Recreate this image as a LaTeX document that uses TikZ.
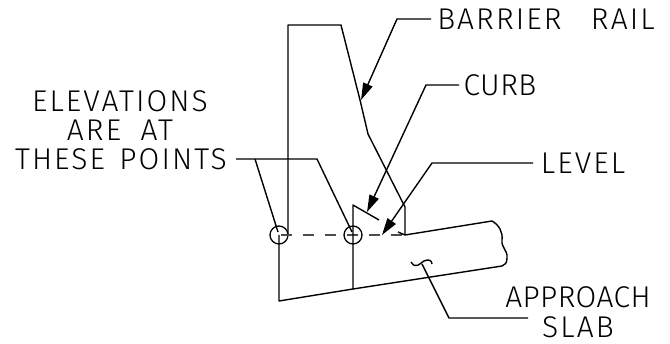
\documentclass[tikz,border=0pt]{standalone}
\usepackage{fontspec}
\newfontfamily\cadfont[LetterSpace=7,UprightFont=* Light]{Fira Sans}
\newfontfamily\cadtight[LetterSpace=1.5,UprightFont=* Light]{Fira Sans}
\usetikzlibrary{arrows.meta}
\tikzset{
    note/.style = {inner sep=0pt,font=\cadfont\fontsize{30}{30}\selectfont},
    notet/.style = {inner sep=0pt,font=\cadtight\fontsize{30}{30}\selectfont},
    point/.style = {circle, draw=black, line width=1.3pt, inner sep=0pt, minimum size=18pt},
    edgen/.style = {line width=1.4pt,line join=round},
    edgea/.style = {-{Triangle[length=17pt,width=10pt]},line width=1.4pt,line join=round},
    edged/.style = {line width=1.8pt,black!70,dash pattern=on 11pt off 11pt,dash phase=-2pt}
}

\begin{document}
\begin{tikzpicture}[x=1pt,y=-1pt]
\useasboundingbox (0,0) rectangle (670,344);
\node[note] at (120,101) (elev1) {ELEVATIONS};
\node[note] at (120,130) (elev2) {ARE\hspace{9pt} AT};
\node[note] at (121,159) (elev3) {THESE\hspace{4pt} POINTS};
\node[note] at (546,19) (rail) {BARRIER\hspace{19pt} RAIL};
\node[notet] at (500,85) (curb) {CURB};
\node[note] at (583,163) (level) {LEVEL};
\node[notet] at (578,297) (approach) {APPROACH};
\node[note] at (578,327) (slab) {SLAB};

\node[point] at (279,235) (p1) {};
\node[point] at (353,235) (p2) {};

% barrier and slab
\draw[edgen] (288,235) -- (288,25) -- (341,25) -- (360,100) -- (368,134) -- (405,207) -- (405,235);
\draw[edged] (p1.center) -- (405,235);
\draw[edgen] (p1.center) -- (279,301) -- (353,289) -- (p2.center);
\draw[edgen] (353,289) -- (502,266);
\draw[edgen] (353,235) -- (353,205) -- (379,220);
\draw[edgen] (398,232) -- (405,235) -- (492,221)
    .. controls (499,225) and (503,232) .. (502,240)
    .. controls (501,248) and (508,250) .. (507,258)
    .. controls (507,263) and (505,265) .. (502,266);
\draw[edgen] (411,262) .. controls (416,270) and (420,263) .. (424,261)
    .. controls (428,259) and (432,260) .. (432,264);

% leaders
\draw[edgea] (431,19) -- (397,19) -- (361,100);
\draw[edgea] (459,85) -- (426,85) -- (367,212);
\draw[edgea] (533,163) -- (432,163) -- (382,235);
\draw[edgen] (236,159) -- (317,159) -- (352,232);
\draw[edgen] (255,159) -- (278,232);
\draw[edgen] (528,318) -- (449,318) -- (422,264);
\end{tikzpicture}
\end{document}
